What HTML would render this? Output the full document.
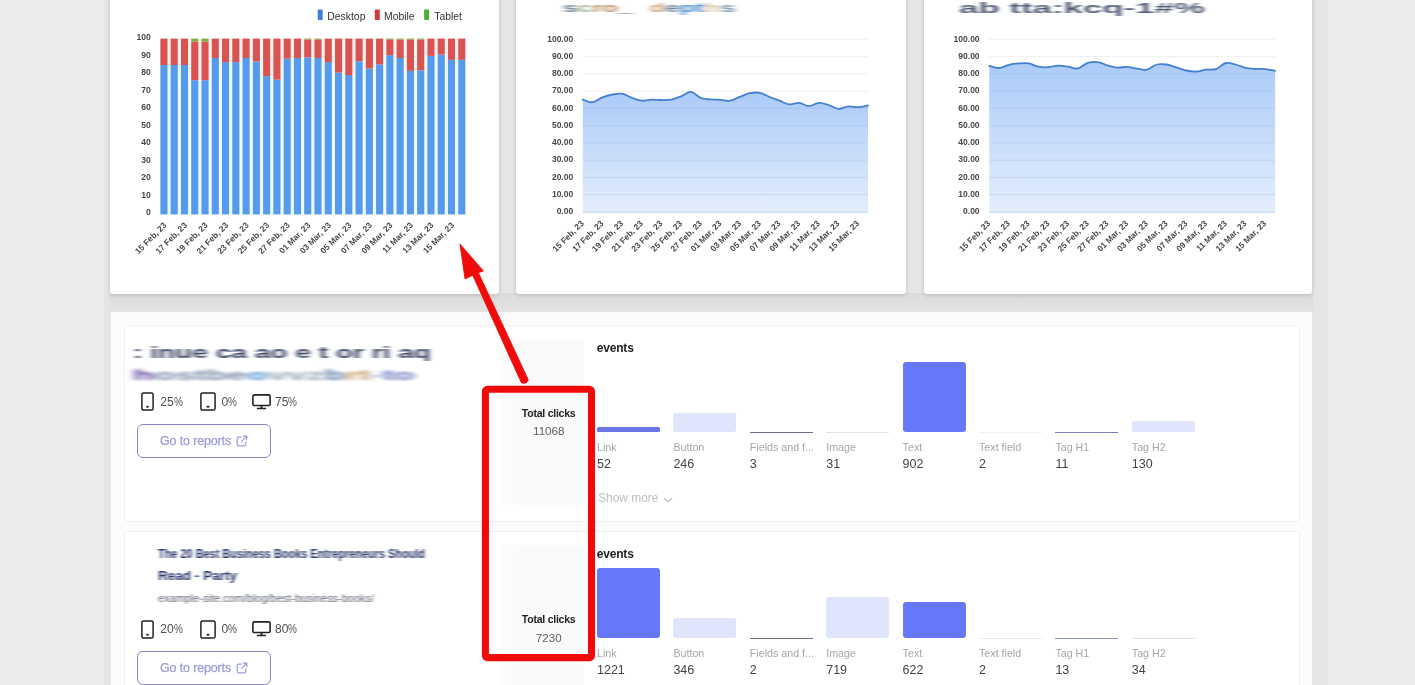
<!DOCTYPE html><html lang="en"><head><meta charset="utf-8"><title>Analytics dashboard</title><style>
*{box-sizing:border-box;margin:0;padding:0}
html,body{width:1415px;height:685px;overflow:hidden}
body{background:#ececec;font-family:"Liberation Sans",sans-serif;position:relative}
.abs{position:absolute}
.card{position:absolute;background:#fff;border-radius:3px;box-shadow:0 0 4px rgba(0,0,0,.10),0 2px 5px rgba(0,0,0,.07)}
.panel{position:absolute;left:110.5px;top:312px;width:1201.5px;height:400px;background:#fcfcfc}
.row{position:absolute;left:123.5px;width:1176px;background:#fff;border:1px solid #f0f0f0;border-radius:4px}
.ov{position:absolute;left:0;top:0;pointer-events:none}
.t{position:absolute;white-space:nowrap;line-height:1}
.tc{background:#f9fafb;position:absolute}
.lbl{font-size:10.7px;color:#a6a6a6}
.val{font-size:12.5px;color:#444}
.ev{font-size:12px;font-weight:bold;color:#222;letter-spacing:-0.2px}
.pct{font-size:12px;color:#505050}
.pct i{font-style:normal;display:inline-block;transform:scaleX(.83);transform-origin:0 50%;margin-right:-1.9px}
.btn{position:absolute;border:1px solid #8686c6;border-radius:6px;background:#fff;width:134px;height:33.5px}
.btn span{-webkit-text-stroke:0.25px #9a9adc;position:absolute;left:22px;top:8.8px;font-size:12.5px;color:#9a9adc;white-space:nowrap;line-height:14px;letter-spacing:-0.15px}
.bar{position:absolute;border-radius:3px}
.sm{border-radius:2.5px}
.b1.sm{border-radius:1.5px;background:#6a76e6}
.b1{background:#6677f8}
.b2{background:#e1e5fb}
.blur{position:absolute;white-space:nowrap;line-height:1}
</style></head><body>
<div class="abs" style="left:104px;top:0;width:1223.5px;height:685px;background:#e5e5e5"></div>
<div class="abs" style="left:109px;top:293px;width:1204px;height:19px;background:linear-gradient(#dbdbdb,#e3e3e3)"></div>
<div class="card" style="left:110px;top:-10px;width:388.5px;height:304px"></div>
<div class="card" style="left:516px;top:-10px;width:390px;height:304px"></div>
<div class="card" style="left:923.5px;top:-10px;width:388.5px;height:304px"></div>
<div class="panel"></div>
<div class="row" style="top:325px;height:196.5px"></div>
<div class="row" style="top:531px;height:200px"></div>
<svg class="ov" width="1415" height="685"><defs><filter id="bl1" x="-5%" y="-50%" width="110%" height="200%"><feGaussianBlur stdDeviation="2.6 0.7"/></filter><filter id="bl2" x="-5%" y="-50%" width="110%" height="200%"><feGaussianBlur stdDeviation="1.8 0.5"/></filter><filter id="bl4" x="-5%" y="-50%" width="110%" height="200%"><feGaussianBlur stdDeviation="3.2 0.5"/></filter><filter id="bl5" x="-5%" y="-50%" width="110%" height="200%"><feGaussianBlur stdDeviation="4 0.8"/></filter><filter id="bl6" x="-5%" y="-50%" width="110%" height="200%"><feGaussianBlur stdDeviation="2.3 0.45"/></filter><filter id="bl7" x="-5%" y="-50%" width="110%" height="200%"><feGaussianBlur stdDeviation="2.4 0.45"/></filter><filter id="bl8" x="-5%" y="-50%" width="110%" height="200%"><feGaussianBlur stdDeviation="3 0.7"/></filter><filter id="bl3" x="-5%" y="-50%" width="110%" height="200%"><feGaussianBlur stdDeviation="1.5 0.55"/></filter></defs><g font-family="Liberation Sans, sans-serif"><text x="563" y="12.3" font-size="12.5" font-weight="bold" filter="url(#bl8)" textLength="172" lengthAdjust="spacingAndGlyphs"><tspan fill="#5f7690">s</tspan><tspan fill="#9fb58f">c</tspan><tspan fill="#b98a55">ro</tspan><tspan fill="#5a6a80">_</tspan><tspan fill="#ffffff">o</tspan><tspan fill="#c9a27a">d</tspan><tspan fill="#6b7f9a">e</tspan><tspan fill="#3f86c8">pt</tspan><tspan fill="#d9c4a0">h</tspan><tspan fill="#6f8fa8">s</tspan></text><text x="959" y="13.2" font-size="14.5" font-weight="bold" fill="#3a4563" filter="url(#bl6)" textLength="246" lengthAdjust="spacingAndGlyphs" opacity=".88">ab tta:kcq-1#%</text><text x="133" y="357.6" font-size="17" font-weight="bold" fill="#262f52" filter="url(#bl7)" textLength="298" lengthAdjust="spacingAndGlyphs" opacity=".92">: inue ca ao e t or ri aq</text><text x="133" y="379.5" font-size="14" font-weight="bold" filter="url(#bl5)" textLength="282" lengthAdjust="spacingAndGlyphs"><tspan fill="#5a3f9a">h</tspan><tspan fill="#7d8aa8">ostbe</tspan><tspan fill="#4b8fd0">o</tspan><tspan fill="#9aa4b8">vvz</tspan><tspan fill="#5f7fa8">b</tspan><tspan fill="#c79a62">rt</tspan><tspan fill="#9aa4c8">-</tspan><tspan fill="#6c78c0">to</tspan></text><text x="158" y="558" font-size="13.5" font-weight="bold" fill="#27346a" filter="url(#bl3)" textLength="267" lengthAdjust="spacingAndGlyphs">The 20 Best Business Books Entrepreneurs Should</text><text x="158" y="580" font-size="13.5" font-weight="bold" fill="#27346a" filter="url(#bl3)" textLength="79" lengthAdjust="spacingAndGlyphs">Read - Party</text><text x="158" y="601.5" font-size="11.5" fill="#5a626e" filter="url(#bl3)" textLength="216" lengthAdjust="spacingAndGlyphs">example-site.com/blog/best-business-books/</text></g></svg>
<svg class="abs" style="left:141px;top:392px" width="13" height="19" viewBox="0 0 13 19"><rect x="0.9" y="0.9" width="11.2" height="17.2" rx="1.7" fill="none" stroke="#222" stroke-width="1.5"/><rect x="5.3" y="13.8" width="2.4" height="1.8" fill="#222"/></svg>
<div class="t pct" style="left:160.3px;top:395.5px">25<i>%</i></div>
<svg class="abs" style="left:200px;top:392px" width="16" height="19" viewBox="0 0 16 19"><rect x="0.9" y="0.9" width="14.2" height="17.2" rx="1.7" fill="none" stroke="#222" stroke-width="1.5"/><rect x="6.6" y="13.8" width="2.8" height="1.8" fill="#222"/></svg>
<div class="t pct" style="left:221.4px;top:395.5px">0<i>%</i></div>
<svg class="abs" style="left:252.3px;top:393.8px" width="19" height="16" viewBox="0 0 19 16"><rect x="0.9" y="0.9" width="17.2" height="10.6" rx="1.3" fill="none" stroke="#222" stroke-width="1.6"/><rect x="8.6" y="11.5" width="1.8" height="2.6" fill="#222"/><rect x="4.8" y="13.7" width="9.4" height="1.5" rx=".6" fill="#222"/></svg>
<div class="t pct" style="left:275.1px;top:395.5px">75<i>%</i></div>
<svg class="abs" style="left:141px;top:619.5px" width="13" height="19" viewBox="0 0 13 19"><rect x="0.9" y="0.9" width="11.2" height="17.2" rx="1.7" fill="none" stroke="#222" stroke-width="1.5"/><rect x="5.3" y="13.8" width="2.4" height="1.8" fill="#222"/></svg>
<div class="t pct" style="left:160.3px;top:623.0px">20<i>%</i></div>
<svg class="abs" style="left:200px;top:619.5px" width="16" height="19" viewBox="0 0 16 19"><rect x="0.9" y="0.9" width="14.2" height="17.2" rx="1.7" fill="none" stroke="#222" stroke-width="1.5"/><rect x="6.6" y="13.8" width="2.8" height="1.8" fill="#222"/></svg>
<div class="t pct" style="left:221.4px;top:623.0px">0<i>%</i></div>
<svg class="abs" style="left:252.3px;top:621.3px" width="19" height="16" viewBox="0 0 19 16"><rect x="0.9" y="0.9" width="17.2" height="10.6" rx="1.3" fill="none" stroke="#222" stroke-width="1.6"/><rect x="8.6" y="11.5" width="1.8" height="2.6" fill="#222"/><rect x="4.8" y="13.7" width="9.4" height="1.5" rx=".6" fill="#222"/></svg>
<div class="t pct" style="left:275.1px;top:623.0px">80<i>%</i></div>
<div class="btn" style="left:137px;top:424px"><span>Go to reports</span></div>
<svg class="abs" style="left:236.2px;top:434.6px" width="12" height="12" viewBox="0 0 12 12" fill="none" stroke="#9a9ade" stroke-width="1.2" stroke-linecap="round" stroke-linejoin="round"><path d="M5 2.2H2.6A1.4 1.4 0 0 0 1.2 3.6v5.8a1.4 1.4 0 0 0 1.4 1.4h5.8a1.4 1.4 0 0 0 1.4-1.4V7"/><path d="M7.2 1.2h3.6v3.6M10.6 1.4 5.6 6.4"/></svg>
<div class="btn" style="left:137px;top:651px"><span>Go to reports</span></div>
<svg class="abs" style="left:236.2px;top:661.6px" width="12" height="12" viewBox="0 0 12 12" fill="none" stroke="#9a9ade" stroke-width="1.2" stroke-linecap="round" stroke-linejoin="round"><path d="M5 2.2H2.6A1.4 1.4 0 0 0 1.2 3.6v5.8a1.4 1.4 0 0 0 1.4 1.4h5.8a1.4 1.4 0 0 0 1.4-1.4V7"/><path d="M7.2 1.2h3.6v3.6M10.6 1.4 5.6 6.4"/></svg>
<div class="tc" style="left:499.5px;top:340px;width:84.5px;height:164.5px;background:#fbfbfc"></div>
<div class="tc" style="left:518px;top:340px;width:66px;height:164.5px"></div>
<div class="t" style="left:521.8px;top:407.7px;font-size:10.6px;font-weight:bold;color:#222;letter-spacing:-0.27px">Total clicks</div>
<div class="t" style="left:500px;width:97.5px;text-align:center;top:425.09999999999997px;font-size:11.6px;color:#5e5e5e">11068</div>
<div class="tc" style="left:499.5px;top:545px;width:84.5px;height:150px;background:#fbfbfc"></div>
<div class="tc" style="left:518px;top:545px;width:66px;height:150px"></div>
<div class="t" style="left:521.8px;top:614.1px;font-size:10.6px;font-weight:bold;color:#222;letter-spacing:-0.27px">Total clicks</div>
<div class="t" style="left:500px;width:97.5px;text-align:center;top:631.5px;font-size:11.6px;color:#5e5e5e">7230</div>
<div class="t ev" style="left:596.8px;top:341.8px">events</div>
<div class="t lbl" style="left:597.0px;top:442.0px">Link</div>
<div class="t val" style="left:597.0px;top:458.40000000000003px">52</div>
<div class="bar b1 sm" style="left:597.0px;top:426.8px;width:63px;height:5px"></div>
<div class="t lbl" style="left:673.4px;top:442.0px">Button</div>
<div class="t val" style="left:673.4px;top:458.40000000000003px">246</div>
<div class="bar b2 sm" style="left:673.4px;top:412.6px;width:63px;height:19.2px"></div>
<div class="t lbl" style="left:749.8px;top:442.0px">Fields and f...</div>
<div class="t val" style="left:749.8px;top:458.40000000000003px">3</div>
<div class="abs" style="left:749.8px;top:432.0px;width:63px;height:1px;background:#6a6f8a"></div>
<div class="t lbl" style="left:826.2px;top:442.0px">Image</div>
<div class="t val" style="left:826.2px;top:458.40000000000003px">31</div>
<div class="abs" style="left:826.2px;top:432.0px;width:63px;height:1px;background:#e4e4e8"></div>
<div class="t lbl" style="left:902.6px;top:442.0px">Text</div>
<div class="t val" style="left:902.6px;top:458.40000000000003px">902</div>
<div class="bar b1" style="left:902.6px;top:361.5px;width:63px;height:70.3px"></div>
<div class="t lbl" style="left:979.0px;top:442.0px">Text field</div>
<div class="t val" style="left:979.0px;top:458.40000000000003px">2</div>
<div class="abs" style="left:979.0px;top:432.0px;width:63px;height:1px;background:#f0f0f2"></div>
<div class="t lbl" style="left:1055.4px;top:442.0px">Tag H1</div>
<div class="t val" style="left:1055.4px;top:458.40000000000003px">11</div>
<div class="abs" style="left:1055.4px;top:432.0px;width:63px;height:1px;background:#7a80b8"></div>
<div class="t lbl" style="left:1131.8px;top:442.0px">Tag H2</div>
<div class="t val" style="left:1131.8px;top:458.40000000000003px">130</div>
<div class="bar b2 sm" style="left:1131.8px;top:421.3px;width:63px;height:10.5px"></div>
<div class="t ev" style="left:596.8px;top:548.2px">events</div>
<div class="t lbl" style="left:597.0px;top:647.8000000000001px">Link</div>
<div class="t val" style="left:597.0px;top:664.2px">1221</div>
<div class="bar b1" style="left:597.0px;top:568.2px;width:63px;height:69.4px"></div>
<div class="t lbl" style="left:673.4px;top:647.8000000000001px">Button</div>
<div class="t val" style="left:673.4px;top:664.2px">346</div>
<div class="bar b2 sm" style="left:673.4px;top:618.3px;width:63px;height:19.3px"></div>
<div class="t lbl" style="left:749.8px;top:647.8000000000001px">Fields and f...</div>
<div class="t val" style="left:749.8px;top:664.2px">2</div>
<div class="abs" style="left:749.8px;top:637.8000000000001px;width:63px;height:1px;background:#6a6f8a"></div>
<div class="t lbl" style="left:826.2px;top:647.8000000000001px">Image</div>
<div class="t val" style="left:826.2px;top:664.2px">719</div>
<div class="bar b2" style="left:826.2px;top:597.4px;width:63px;height:40.2px"></div>
<div class="t lbl" style="left:902.6px;top:647.8000000000001px">Text</div>
<div class="t val" style="left:902.6px;top:664.2px">622</div>
<div class="bar b1" style="left:902.6px;top:602.2px;width:63px;height:35.4px"></div>
<div class="t lbl" style="left:979.0px;top:647.8000000000001px">Text field</div>
<div class="t val" style="left:979.0px;top:664.2px">2</div>
<div class="abs" style="left:979.0px;top:637.8000000000001px;width:63px;height:1px;background:#ececf0"></div>
<div class="t lbl" style="left:1055.4px;top:647.8000000000001px">Tag H1</div>
<div class="t val" style="left:1055.4px;top:664.2px">13</div>
<div class="abs" style="left:1055.4px;top:637.8000000000001px;width:63px;height:1px;background:#8a90c8"></div>
<div class="t lbl" style="left:1131.8px;top:647.8000000000001px">Tag H2</div>
<div class="t val" style="left:1131.8px;top:664.2px">34</div>
<div class="abs" style="left:1131.8px;top:637.8000000000001px;width:63px;height:1px;background:#e0e2ee"></div>
<div class="t" style="left:598.2px;top:493.2px;font-size:11.9px;color:#c0c0c0">Show more</div>
<svg class="abs" style="left:662.8px;top:495.5px" width="10" height="8" viewBox="0 0 10 8" fill="none" stroke="#c2c2c2" stroke-width="1.2" stroke-linecap="round" stroke-linejoin="round"><path d="M1.5 2.5 5 5.8 8.5 2.5"/></svg>
<svg class="ov" width="1415" height="685" viewBox="0 0 1415 685">
<defs>
<linearGradient id="ag" x1="0" y1="0" x2="0" y2="1"><stop offset="0" stop-color="#a9c9f8"/><stop offset="1" stop-color="#e3eefc"/></linearGradient>
<linearGradient id="ag3" x1="0" y1="0" x2="0" y2="1"><stop offset="0" stop-color="#a9c9f8"/><stop offset="1" stop-color="#e3eefc"/></linearGradient>
</defs>
<g shape-rendering="auto">
<rect x="160.01" y="65.00" width="9.07" height="149.40" fill="#ecfaff"/>
<rect x="160.01" y="38.60" width="9.07" height="26.40" fill="#fff1f1"/>
<rect x="169.09" y="65.00" width="10.27" height="149.40" fill="#ecfaff"/>
<rect x="169.09" y="38.60" width="10.27" height="26.40" fill="#fff1f1"/>
<rect x="179.35" y="65.00" width="10.27" height="149.40" fill="#ecfaff"/>
<rect x="179.35" y="38.60" width="10.27" height="26.40" fill="#fff1f1"/>
<rect x="189.62" y="80.20" width="10.27" height="134.20" fill="#ecfaff"/>
<rect x="189.62" y="38.60" width="10.27" height="41.60" fill="#fff1f1"/>
<rect x="199.90" y="80.20" width="10.27" height="134.20" fill="#ecfaff"/>
<rect x="199.90" y="38.60" width="10.27" height="41.60" fill="#fff1f1"/>
<rect x="210.16" y="58.00" width="10.27" height="156.40" fill="#ecfaff"/>
<rect x="210.16" y="38.60" width="10.27" height="19.40" fill="#fff1f1"/>
<rect x="220.44" y="62.10" width="10.27" height="152.30" fill="#ecfaff"/>
<rect x="220.44" y="38.60" width="10.27" height="23.50" fill="#fff1f1"/>
<rect x="230.71" y="62.10" width="10.27" height="152.30" fill="#ecfaff"/>
<rect x="230.71" y="38.60" width="10.27" height="23.50" fill="#fff1f1"/>
<rect x="240.97" y="58.00" width="10.27" height="156.40" fill="#ecfaff"/>
<rect x="240.97" y="38.60" width="10.27" height="19.40" fill="#fff1f1"/>
<rect x="251.24" y="61.50" width="10.27" height="152.90" fill="#ecfaff"/>
<rect x="251.24" y="38.60" width="10.27" height="22.90" fill="#fff1f1"/>
<rect x="261.52" y="76.10" width="10.27" height="138.30" fill="#ecfaff"/>
<rect x="261.52" y="38.60" width="10.27" height="37.50" fill="#fff1f1"/>
<rect x="271.79" y="79.60" width="10.27" height="134.80" fill="#ecfaff"/>
<rect x="271.79" y="38.60" width="10.27" height="41.00" fill="#fff1f1"/>
<rect x="282.06" y="58.60" width="10.27" height="155.80" fill="#ecfaff"/>
<rect x="282.06" y="38.60" width="10.27" height="20.00" fill="#fff1f1"/>
<rect x="292.32" y="58.00" width="10.27" height="156.40" fill="#ecfaff"/>
<rect x="292.32" y="38.60" width="10.27" height="19.40" fill="#fff1f1"/>
<rect x="302.60" y="57.40" width="10.27" height="157.00" fill="#ecfaff"/>
<rect x="302.60" y="38.60" width="10.27" height="18.80" fill="#fff1f1"/>
<rect x="312.87" y="58.00" width="10.27" height="156.40" fill="#ecfaff"/>
<rect x="312.87" y="38.60" width="10.27" height="19.40" fill="#fff1f1"/>
<rect x="323.14" y="62.10" width="10.27" height="152.30" fill="#ecfaff"/>
<rect x="323.14" y="38.60" width="10.27" height="23.50" fill="#fff1f1"/>
<rect x="333.41" y="72.60" width="10.27" height="141.80" fill="#ecfaff"/>
<rect x="333.41" y="38.60" width="10.27" height="34.00" fill="#fff1f1"/>
<rect x="343.68" y="75.00" width="10.27" height="139.40" fill="#ecfaff"/>
<rect x="343.68" y="38.60" width="10.27" height="36.40" fill="#fff1f1"/>
<rect x="353.94" y="61.30" width="10.27" height="153.10" fill="#ecfaff"/>
<rect x="353.94" y="38.60" width="10.27" height="22.70" fill="#fff1f1"/>
<rect x="364.21" y="68.50" width="10.27" height="145.90" fill="#ecfaff"/>
<rect x="364.21" y="38.60" width="10.27" height="29.90" fill="#fff1f1"/>
<rect x="374.49" y="64.50" width="10.27" height="149.90" fill="#ecfaff"/>
<rect x="374.49" y="38.60" width="10.27" height="25.90" fill="#fff1f1"/>
<rect x="384.76" y="55.10" width="10.27" height="159.30" fill="#ecfaff"/>
<rect x="384.76" y="38.60" width="10.27" height="16.50" fill="#fff1f1"/>
<rect x="395.03" y="58.00" width="10.27" height="156.40" fill="#ecfaff"/>
<rect x="395.03" y="38.60" width="10.27" height="19.40" fill="#fff1f1"/>
<rect x="405.30" y="70.90" width="10.27" height="143.50" fill="#ecfaff"/>
<rect x="405.30" y="38.60" width="10.27" height="32.30" fill="#fff1f1"/>
<rect x="415.56" y="70.30" width="10.27" height="144.10" fill="#ecfaff"/>
<rect x="415.56" y="38.60" width="10.27" height="31.70" fill="#fff1f1"/>
<rect x="425.83" y="55.90" width="10.27" height="158.50" fill="#ecfaff"/>
<rect x="425.83" y="38.60" width="10.27" height="17.30" fill="#fff1f1"/>
<rect x="436.10" y="54.50" width="10.27" height="159.90" fill="#ecfaff"/>
<rect x="436.10" y="38.60" width="10.27" height="15.90" fill="#fff1f1"/>
<rect x="446.38" y="59.80" width="10.27" height="154.60" fill="#ecfaff"/>
<rect x="446.38" y="38.60" width="10.27" height="21.20" fill="#fff1f1"/>
<rect x="456.65" y="59.80" width="9.07" height="154.60" fill="#ecfaff"/>
<rect x="456.65" y="38.60" width="9.07" height="21.20" fill="#fff1f1"/>
<rect x="160.40" y="65.00" width="7.1" height="149.40" fill="#569aec"/>
<rect x="160.40" y="38.60" width="7.1" height="26.40" fill="#d85451"/>
<rect x="170.67" y="65.00" width="7.1" height="149.40" fill="#569aec"/>
<rect x="170.67" y="38.60" width="7.1" height="26.40" fill="#d85451"/>
<rect x="180.94" y="65.00" width="7.1" height="149.40" fill="#569aec"/>
<rect x="180.94" y="38.60" width="7.1" height="26.40" fill="#d85451"/>
<rect x="191.21" y="80.20" width="7.1" height="134.20" fill="#569aec"/>
<rect x="191.21" y="41.60" width="7.1" height="38.60" fill="#d85451"/>
<rect x="191.21" y="38.60" width="7.1" height="3.00" fill="#7cb342"/>
<rect x="201.48" y="80.20" width="7.1" height="134.20" fill="#569aec"/>
<rect x="201.48" y="41.60" width="7.1" height="38.60" fill="#d85451"/>
<rect x="201.48" y="38.60" width="7.1" height="3.00" fill="#7cb342"/>
<rect x="211.75" y="58.00" width="7.1" height="156.40" fill="#569aec"/>
<rect x="211.75" y="38.60" width="7.1" height="19.40" fill="#d85451"/>
<rect x="222.02" y="62.10" width="7.1" height="152.30" fill="#569aec"/>
<rect x="222.02" y="38.60" width="7.1" height="23.50" fill="#d85451"/>
<rect x="232.29" y="62.10" width="7.1" height="152.30" fill="#569aec"/>
<rect x="232.29" y="38.60" width="7.1" height="23.50" fill="#d85451"/>
<rect x="242.56" y="58.00" width="7.1" height="156.40" fill="#569aec"/>
<rect x="242.56" y="38.60" width="7.1" height="19.40" fill="#d85451"/>
<rect x="252.83" y="61.50" width="7.1" height="152.90" fill="#569aec"/>
<rect x="252.83" y="38.60" width="7.1" height="22.90" fill="#d85451"/>
<rect x="263.10" y="76.10" width="7.1" height="138.30" fill="#569aec"/>
<rect x="263.10" y="38.60" width="7.1" height="37.50" fill="#d85451"/>
<rect x="273.37" y="79.60" width="7.1" height="134.80" fill="#569aec"/>
<rect x="273.37" y="38.60" width="7.1" height="41.00" fill="#d85451"/>
<rect x="283.64" y="58.60" width="7.1" height="155.80" fill="#569aec"/>
<rect x="283.64" y="38.60" width="7.1" height="20.00" fill="#d85451"/>
<rect x="293.91" y="58.00" width="7.1" height="156.40" fill="#569aec"/>
<rect x="293.91" y="38.60" width="7.1" height="19.40" fill="#d85451"/>
<rect x="304.18" y="57.40" width="7.1" height="157.00" fill="#569aec"/>
<rect x="304.18" y="39.40" width="7.1" height="18.00" fill="#d85451"/>
<rect x="304.18" y="38.60" width="7.1" height="0.80" fill="#7cb342"/>
<rect x="314.45" y="58.00" width="7.1" height="156.40" fill="#569aec"/>
<rect x="314.45" y="39.40" width="7.1" height="18.60" fill="#d85451"/>
<rect x="314.45" y="38.60" width="7.1" height="0.80" fill="#7cb342"/>
<rect x="324.72" y="62.10" width="7.1" height="152.30" fill="#569aec"/>
<rect x="324.72" y="38.60" width="7.1" height="23.50" fill="#d85451"/>
<rect x="334.99" y="72.60" width="7.1" height="141.80" fill="#569aec"/>
<rect x="334.99" y="38.60" width="7.1" height="34.00" fill="#d85451"/>
<rect x="345.26" y="75.00" width="7.1" height="139.40" fill="#569aec"/>
<rect x="345.26" y="38.60" width="7.1" height="36.40" fill="#d85451"/>
<rect x="355.53" y="61.30" width="7.1" height="153.10" fill="#569aec"/>
<rect x="355.53" y="38.60" width="7.1" height="22.70" fill="#d85451"/>
<rect x="365.80" y="68.50" width="7.1" height="145.90" fill="#569aec"/>
<rect x="365.80" y="38.60" width="7.1" height="29.90" fill="#d85451"/>
<rect x="376.07" y="64.50" width="7.1" height="149.90" fill="#569aec"/>
<rect x="376.07" y="38.60" width="7.1" height="25.90" fill="#d85451"/>
<rect x="386.34" y="55.10" width="7.1" height="159.30" fill="#569aec"/>
<rect x="386.34" y="39.40" width="7.1" height="15.70" fill="#d85451"/>
<rect x="386.34" y="38.60" width="7.1" height="0.80" fill="#7cb342"/>
<rect x="396.61" y="58.00" width="7.1" height="156.40" fill="#569aec"/>
<rect x="396.61" y="39.60" width="7.1" height="18.40" fill="#d85451"/>
<rect x="396.61" y="38.60" width="7.1" height="1.00" fill="#7cb342"/>
<rect x="406.88" y="70.90" width="7.1" height="143.50" fill="#569aec"/>
<rect x="406.88" y="39.40" width="7.1" height="31.50" fill="#d85451"/>
<rect x="406.88" y="38.60" width="7.1" height="0.80" fill="#7cb342"/>
<rect x="417.15" y="70.30" width="7.1" height="144.10" fill="#569aec"/>
<rect x="417.15" y="39.40" width="7.1" height="30.90" fill="#d85451"/>
<rect x="417.15" y="38.60" width="7.1" height="0.80" fill="#7cb342"/>
<rect x="427.42" y="55.90" width="7.1" height="158.50" fill="#569aec"/>
<rect x="427.42" y="38.60" width="7.1" height="17.30" fill="#d85451"/>
<rect x="437.69" y="54.50" width="7.1" height="159.90" fill="#569aec"/>
<rect x="437.69" y="38.60" width="7.1" height="15.90" fill="#d85451"/>
<rect x="447.96" y="59.80" width="7.1" height="154.60" fill="#569aec"/>
<rect x="447.96" y="38.60" width="7.1" height="21.20" fill="#d85451"/>
<rect x="458.23" y="59.80" width="7.1" height="154.60" fill="#569aec"/>
<rect x="458.23" y="38.60" width="7.1" height="21.20" fill="#d85451"/>
</g>
<g font-family="Liberation Sans, sans-serif" font-size="8.6" fill="#484848" text-anchor="end" font-weight="bold">
<text x="150.8" y="215.30">0</text>
<text x="150.8" y="197.77">10</text>
<text x="150.8" y="180.24">20</text>
<text x="150.8" y="162.71">30</text>
<text x="150.8" y="145.18">40</text>
<text x="150.8" y="127.65">50</text>
<text x="150.8" y="110.12">60</text>
<text x="150.8" y="92.59">70</text>
<text x="150.8" y="75.06">80</text>
<text x="150.8" y="57.53">90</text>
<text x="150.8" y="40.00">100</text>
</g>
<g font-family="Liberation Sans, sans-serif" font-size="8.4" fill="#484848" text-anchor="end" font-weight="bold">
<text transform="translate(167.15,225.8) rotate(-45)" x="0" y="0">15 Feb, 23</text>
<text transform="translate(187.69,225.8) rotate(-45)" x="0" y="0">17 Feb, 23</text>
<text transform="translate(208.23,225.8) rotate(-45)" x="0" y="0">19 Feb, 23</text>
<text transform="translate(228.77,225.8) rotate(-45)" x="0" y="0">21 Feb, 23</text>
<text transform="translate(249.31,225.8) rotate(-45)" x="0" y="0">23 Feb, 23</text>
<text transform="translate(269.85,225.8) rotate(-45)" x="0" y="0">25 Feb, 23</text>
<text transform="translate(290.39,225.8) rotate(-45)" x="0" y="0">27 Feb, 23</text>
<text transform="translate(310.93,225.8) rotate(-45)" x="0" y="0">01 Mar, 23</text>
<text transform="translate(331.47,225.8) rotate(-45)" x="0" y="0">03 Mar, 23</text>
<text transform="translate(352.01,225.8) rotate(-45)" x="0" y="0">05 Mar, 23</text>
<text transform="translate(372.55,225.8) rotate(-45)" x="0" y="0">07 Mar, 23</text>
<text transform="translate(393.09,225.8) rotate(-45)" x="0" y="0">09 Mar, 23</text>
<text transform="translate(413.63,225.8) rotate(-45)" x="0" y="0">11 Mar, 23</text>
<text transform="translate(434.17,225.8) rotate(-45)" x="0" y="0">13 Mar, 23</text>
<text transform="translate(454.71,225.8) rotate(-45)" x="0" y="0">15 Mar, 23</text>
</g>
<g font-family="Liberation Sans, sans-serif" font-size="10.4" fill="#333">
<rect x="317.7" y="9.6" width="5" height="10.5" rx="1" fill="#3f7fdc"/><text x="327.3" y="19.6">Desktop</text>
<rect x="374.8" y="9.6" width="5" height="10.5" rx="1" fill="#d43a3a"/><text x="384" y="19.6">Mobile</text>
<rect x="424.1" y="9.6" width="5" height="10.5" rx="1" fill="#4caf32"/><text x="434.2" y="19.6">Tablet</text>
</g>
<line x1="582.8" y1="211.90" x2="868.0" y2="211.90" stroke="#f0f0f0" stroke-width="1"/>
<line x1="582.8" y1="194.64" x2="868.0" y2="194.64" stroke="#f0f0f0" stroke-width="1"/>
<line x1="582.8" y1="177.38" x2="868.0" y2="177.38" stroke="#f0f0f0" stroke-width="1"/>
<line x1="582.8" y1="160.12" x2="868.0" y2="160.12" stroke="#f0f0f0" stroke-width="1"/>
<line x1="582.8" y1="142.86" x2="868.0" y2="142.86" stroke="#f0f0f0" stroke-width="1"/>
<line x1="582.8" y1="125.60" x2="868.0" y2="125.60" stroke="#f0f0f0" stroke-width="1"/>
<line x1="582.8" y1="108.34" x2="868.0" y2="108.34" stroke="#f0f0f0" stroke-width="1"/>
<line x1="582.8" y1="91.08" x2="868.0" y2="91.08" stroke="#f0f0f0" stroke-width="1"/>
<line x1="582.8" y1="73.82" x2="868.0" y2="73.82" stroke="#f0f0f0" stroke-width="1"/>
<line x1="582.8" y1="56.56" x2="868.0" y2="56.56" stroke="#f0f0f0" stroke-width="1"/>
<line x1="582.8" y1="39.30" x2="868.0" y2="39.30" stroke="#f0f0f0" stroke-width="1"/>
<path d="M582.80,99.60 C584.57,100.07 589.09,102.60 592.63,102.20 C596.17,101.80 598.93,98.79 602.47,97.40 C606.01,96.01 608.76,95.17 612.30,94.50 C615.84,93.83 618.60,93.11 622.14,93.70 C625.68,94.29 628.43,96.54 631.97,97.80 C635.51,99.06 638.27,100.38 641.81,100.70 C645.35,101.02 648.10,99.73 651.64,99.60 C655.18,99.47 657.94,100.00 661.48,100.00 C665.02,100.00 667.77,100.27 671.31,99.60 C674.85,98.93 677.60,97.69 681.14,96.30 C684.69,94.91 687.44,91.59 690.98,91.90 C694.52,92.21 697.27,96.65 700.81,98.00 C704.35,99.35 707.11,99.08 710.65,99.40 C714.19,99.72 716.94,99.57 720.48,99.80 C724.02,100.03 726.78,101.26 730.32,100.70 C733.86,100.14 736.61,98.05 740.15,96.70 C743.69,95.35 746.45,93.90 749.99,93.20 C753.53,92.50 756.28,92.12 759.82,92.80 C763.36,93.48 766.11,95.58 769.66,97.00 C773.20,98.42 775.95,99.37 779.49,100.70 C783.03,102.03 785.78,104.00 789.32,104.40 C792.86,104.80 795.62,102.59 799.16,102.90 C802.70,103.21 805.45,106.10 808.99,106.10 C812.53,106.10 815.29,103.10 818.83,102.90 C822.37,102.70 825.12,103.94 828.66,105.00 C832.20,106.06 834.96,108.55 838.50,108.80 C842.04,109.05 844.79,106.69 848.33,106.40 C851.87,106.11 854.63,107.36 858.17,107.20 C861.71,107.04 866.23,105.81 868.00,105.50 L868.0,213.4 L582.8,213.4 Z" fill="url(#ag)" opacity="0.97"/>
<clipPath id="cpag"><path d="M582.80,99.60 C584.57,100.07 589.09,102.60 592.63,102.20 C596.17,101.80 598.93,98.79 602.47,97.40 C606.01,96.01 608.76,95.17 612.30,94.50 C615.84,93.83 618.60,93.11 622.14,93.70 C625.68,94.29 628.43,96.54 631.97,97.80 C635.51,99.06 638.27,100.38 641.81,100.70 C645.35,101.02 648.10,99.73 651.64,99.60 C655.18,99.47 657.94,100.00 661.48,100.00 C665.02,100.00 667.77,100.27 671.31,99.60 C674.85,98.93 677.60,97.69 681.14,96.30 C684.69,94.91 687.44,91.59 690.98,91.90 C694.52,92.21 697.27,96.65 700.81,98.00 C704.35,99.35 707.11,99.08 710.65,99.40 C714.19,99.72 716.94,99.57 720.48,99.80 C724.02,100.03 726.78,101.26 730.32,100.70 C733.86,100.14 736.61,98.05 740.15,96.70 C743.69,95.35 746.45,93.90 749.99,93.20 C753.53,92.50 756.28,92.12 759.82,92.80 C763.36,93.48 766.11,95.58 769.66,97.00 C773.20,98.42 775.95,99.37 779.49,100.70 C783.03,102.03 785.78,104.00 789.32,104.40 C792.86,104.80 795.62,102.59 799.16,102.90 C802.70,103.21 805.45,106.10 808.99,106.10 C812.53,106.10 815.29,103.10 818.83,102.90 C822.37,102.70 825.12,103.94 828.66,105.00 C832.20,106.06 834.96,108.55 838.50,108.80 C842.04,109.05 844.79,106.69 848.33,106.40 C851.87,106.11 854.63,107.36 858.17,107.20 C861.71,107.04 866.23,105.81 868.00,105.50 L868.0,213.4 L582.8,213.4 Z"/></clipPath>
<g clip-path="url(#cpag)">
<line x1="582.8" y1="211.90" x2="868.0" y2="211.90" stroke="#7fa4dc" stroke-opacity="0.22" stroke-width="1"/>
<line x1="582.8" y1="194.64" x2="868.0" y2="194.64" stroke="#7fa4dc" stroke-opacity="0.22" stroke-width="1"/>
<line x1="582.8" y1="177.38" x2="868.0" y2="177.38" stroke="#7fa4dc" stroke-opacity="0.22" stroke-width="1"/>
<line x1="582.8" y1="160.12" x2="868.0" y2="160.12" stroke="#7fa4dc" stroke-opacity="0.22" stroke-width="1"/>
<line x1="582.8" y1="142.86" x2="868.0" y2="142.86" stroke="#7fa4dc" stroke-opacity="0.22" stroke-width="1"/>
<line x1="582.8" y1="125.60" x2="868.0" y2="125.60" stroke="#7fa4dc" stroke-opacity="0.22" stroke-width="1"/>
<line x1="582.8" y1="108.34" x2="868.0" y2="108.34" stroke="#7fa4dc" stroke-opacity="0.22" stroke-width="1"/>
<line x1="582.8" y1="91.08" x2="868.0" y2="91.08" stroke="#7fa4dc" stroke-opacity="0.22" stroke-width="1"/>
<line x1="582.8" y1="73.82" x2="868.0" y2="73.82" stroke="#7fa4dc" stroke-opacity="0.22" stroke-width="1"/>
<line x1="582.8" y1="56.56" x2="868.0" y2="56.56" stroke="#7fa4dc" stroke-opacity="0.22" stroke-width="1"/>
</g>
<path d="M582.80,99.60 C584.57,100.07 589.09,102.60 592.63,102.20 C596.17,101.80 598.93,98.79 602.47,97.40 C606.01,96.01 608.76,95.17 612.30,94.50 C615.84,93.83 618.60,93.11 622.14,93.70 C625.68,94.29 628.43,96.54 631.97,97.80 C635.51,99.06 638.27,100.38 641.81,100.70 C645.35,101.02 648.10,99.73 651.64,99.60 C655.18,99.47 657.94,100.00 661.48,100.00 C665.02,100.00 667.77,100.27 671.31,99.60 C674.85,98.93 677.60,97.69 681.14,96.30 C684.69,94.91 687.44,91.59 690.98,91.90 C694.52,92.21 697.27,96.65 700.81,98.00 C704.35,99.35 707.11,99.08 710.65,99.40 C714.19,99.72 716.94,99.57 720.48,99.80 C724.02,100.03 726.78,101.26 730.32,100.70 C733.86,100.14 736.61,98.05 740.15,96.70 C743.69,95.35 746.45,93.90 749.99,93.20 C753.53,92.50 756.28,92.12 759.82,92.80 C763.36,93.48 766.11,95.58 769.66,97.00 C773.20,98.42 775.95,99.37 779.49,100.70 C783.03,102.03 785.78,104.00 789.32,104.40 C792.86,104.80 795.62,102.59 799.16,102.90 C802.70,103.21 805.45,106.10 808.99,106.10 C812.53,106.10 815.29,103.10 818.83,102.90 C822.37,102.70 825.12,103.94 828.66,105.00 C832.20,106.06 834.96,108.55 838.50,108.80 C842.04,109.05 844.79,106.69 848.33,106.40 C851.87,106.11 854.63,107.36 858.17,107.20 C861.71,107.04 866.23,105.81 868.00,105.50" fill="none" stroke="#4380d4" stroke-width="1.8" stroke-linejoin="round" stroke-linecap="round"/>
<g font-family="Liberation Sans, sans-serif" font-size="8.5" fill="#484848" text-anchor="end" font-weight="bold">
<text x="573.2" y="214.10">0.00</text>
<text x="573.2" y="196.84">10.00</text>
<text x="573.2" y="179.58">20.00</text>
<text x="573.2" y="162.32">30.00</text>
<text x="573.2" y="145.06">40.00</text>
<text x="573.2" y="127.80">50.00</text>
<text x="573.2" y="110.54">60.00</text>
<text x="573.2" y="93.28">70.00</text>
<text x="573.2" y="76.02">80.00</text>
<text x="573.2" y="58.76">90.00</text>
<text x="573.2" y="41.50">100.00</text>
</g>
<g font-family="Liberation Sans, sans-serif" font-size="8.3" fill="#484848" text-anchor="end" font-weight="bold">
<text transform="translate(584.40,224.0) rotate(-45)" x="0" y="0">15 Feb, 23</text>
<text transform="translate(604.07,224.0) rotate(-45)" x="0" y="0">17 Feb, 23</text>
<text transform="translate(623.74,224.0) rotate(-45)" x="0" y="0">19 Feb, 23</text>
<text transform="translate(643.41,224.0) rotate(-45)" x="0" y="0">21 Feb, 23</text>
<text transform="translate(663.08,224.0) rotate(-45)" x="0" y="0">23 Feb, 23</text>
<text transform="translate(682.74,224.0) rotate(-45)" x="0" y="0">25 Feb, 23</text>
<text transform="translate(702.41,224.0) rotate(-45)" x="0" y="0">27 Feb, 23</text>
<text transform="translate(722.08,224.0) rotate(-45)" x="0" y="0">01 Mar, 23</text>
<text transform="translate(741.75,224.0) rotate(-45)" x="0" y="0">03 Mar, 23</text>
<text transform="translate(761.42,224.0) rotate(-45)" x="0" y="0">05 Mar, 23</text>
<text transform="translate(781.09,224.0) rotate(-45)" x="0" y="0">07 Mar, 23</text>
<text transform="translate(800.76,224.0) rotate(-45)" x="0" y="0">09 Mar, 23</text>
<text transform="translate(820.43,224.0) rotate(-45)" x="0" y="0">11 Mar, 23</text>
<text transform="translate(840.10,224.0) rotate(-45)" x="0" y="0">13 Mar, 23</text>
<text transform="translate(859.77,224.0) rotate(-45)" x="0" y="0">15 Mar, 23</text>
</g>
<line x1="989.2" y1="211.90" x2="1275.1" y2="211.90" stroke="#f0f0f0" stroke-width="1"/>
<line x1="989.2" y1="194.64" x2="1275.1" y2="194.64" stroke="#f0f0f0" stroke-width="1"/>
<line x1="989.2" y1="177.38" x2="1275.1" y2="177.38" stroke="#f0f0f0" stroke-width="1"/>
<line x1="989.2" y1="160.12" x2="1275.1" y2="160.12" stroke="#f0f0f0" stroke-width="1"/>
<line x1="989.2" y1="142.86" x2="1275.1" y2="142.86" stroke="#f0f0f0" stroke-width="1"/>
<line x1="989.2" y1="125.60" x2="1275.1" y2="125.60" stroke="#f0f0f0" stroke-width="1"/>
<line x1="989.2" y1="108.34" x2="1275.1" y2="108.34" stroke="#f0f0f0" stroke-width="1"/>
<line x1="989.2" y1="91.08" x2="1275.1" y2="91.08" stroke="#f0f0f0" stroke-width="1"/>
<line x1="989.2" y1="73.82" x2="1275.1" y2="73.82" stroke="#f0f0f0" stroke-width="1"/>
<line x1="989.2" y1="56.56" x2="1275.1" y2="56.56" stroke="#f0f0f0" stroke-width="1"/>
<line x1="989.2" y1="39.30" x2="1275.1" y2="39.30" stroke="#f0f0f0" stroke-width="1"/>
<path d="M989.20,65.90 C990.97,66.28 995.51,68.20 999.06,68.00 C1002.61,67.80 1005.37,65.63 1008.92,64.80 C1012.47,63.97 1015.23,63.65 1018.78,63.40 C1022.32,63.15 1025.09,62.81 1028.63,63.40 C1032.18,63.99 1034.94,66.02 1038.49,66.70 C1042.04,67.38 1044.80,67.40 1048.35,67.20 C1051.90,67.00 1054.66,65.69 1058.21,65.60 C1061.76,65.51 1064.52,66.18 1068.07,66.70 C1071.62,67.22 1074.38,69.20 1077.93,68.50 C1081.48,67.80 1084.24,63.95 1087.79,62.80 C1091.34,61.65 1094.10,61.63 1097.64,62.10 C1101.19,62.57 1103.95,64.41 1107.50,65.40 C1111.05,66.39 1113.81,67.33 1117.36,67.60 C1120.91,67.87 1123.67,66.70 1127.22,66.90 C1130.77,67.10 1133.53,68.21 1137.08,68.70 C1140.63,69.19 1143.39,70.36 1146.94,69.60 C1150.49,68.84 1153.25,65.42 1156.80,64.50 C1160.35,63.58 1163.11,63.98 1166.66,64.50 C1170.20,65.02 1172.96,66.32 1176.51,67.40 C1180.06,68.48 1182.82,69.76 1186.37,70.50 C1189.92,71.24 1192.68,71.66 1196.23,71.50 C1199.78,71.34 1202.54,70.03 1206.09,69.60 C1209.64,69.17 1212.40,70.29 1215.95,69.10 C1219.50,67.91 1222.26,63.83 1225.81,63.00 C1229.36,62.17 1232.12,63.64 1235.67,64.50 C1239.21,65.36 1241.98,67.01 1245.52,67.80 C1249.07,68.59 1251.83,68.67 1255.38,68.90 C1258.93,69.13 1261.69,68.74 1265.24,69.10 C1268.79,69.46 1273.33,70.58 1275.10,70.90 L1275.1,213.4 L989.2,213.4 Z" fill="url(#ag3)" opacity="0.97"/>
<clipPath id="cpag3"><path d="M989.20,65.90 C990.97,66.28 995.51,68.20 999.06,68.00 C1002.61,67.80 1005.37,65.63 1008.92,64.80 C1012.47,63.97 1015.23,63.65 1018.78,63.40 C1022.32,63.15 1025.09,62.81 1028.63,63.40 C1032.18,63.99 1034.94,66.02 1038.49,66.70 C1042.04,67.38 1044.80,67.40 1048.35,67.20 C1051.90,67.00 1054.66,65.69 1058.21,65.60 C1061.76,65.51 1064.52,66.18 1068.07,66.70 C1071.62,67.22 1074.38,69.20 1077.93,68.50 C1081.48,67.80 1084.24,63.95 1087.79,62.80 C1091.34,61.65 1094.10,61.63 1097.64,62.10 C1101.19,62.57 1103.95,64.41 1107.50,65.40 C1111.05,66.39 1113.81,67.33 1117.36,67.60 C1120.91,67.87 1123.67,66.70 1127.22,66.90 C1130.77,67.10 1133.53,68.21 1137.08,68.70 C1140.63,69.19 1143.39,70.36 1146.94,69.60 C1150.49,68.84 1153.25,65.42 1156.80,64.50 C1160.35,63.58 1163.11,63.98 1166.66,64.50 C1170.20,65.02 1172.96,66.32 1176.51,67.40 C1180.06,68.48 1182.82,69.76 1186.37,70.50 C1189.92,71.24 1192.68,71.66 1196.23,71.50 C1199.78,71.34 1202.54,70.03 1206.09,69.60 C1209.64,69.17 1212.40,70.29 1215.95,69.10 C1219.50,67.91 1222.26,63.83 1225.81,63.00 C1229.36,62.17 1232.12,63.64 1235.67,64.50 C1239.21,65.36 1241.98,67.01 1245.52,67.80 C1249.07,68.59 1251.83,68.67 1255.38,68.90 C1258.93,69.13 1261.69,68.74 1265.24,69.10 C1268.79,69.46 1273.33,70.58 1275.10,70.90 L1275.1,213.4 L989.2,213.4 Z"/></clipPath>
<g clip-path="url(#cpag3)">
<line x1="989.2" y1="211.90" x2="1275.1" y2="211.90" stroke="#7fa4dc" stroke-opacity="0.22" stroke-width="1"/>
<line x1="989.2" y1="194.64" x2="1275.1" y2="194.64" stroke="#7fa4dc" stroke-opacity="0.22" stroke-width="1"/>
<line x1="989.2" y1="177.38" x2="1275.1" y2="177.38" stroke="#7fa4dc" stroke-opacity="0.22" stroke-width="1"/>
<line x1="989.2" y1="160.12" x2="1275.1" y2="160.12" stroke="#7fa4dc" stroke-opacity="0.22" stroke-width="1"/>
<line x1="989.2" y1="142.86" x2="1275.1" y2="142.86" stroke="#7fa4dc" stroke-opacity="0.22" stroke-width="1"/>
<line x1="989.2" y1="125.60" x2="1275.1" y2="125.60" stroke="#7fa4dc" stroke-opacity="0.22" stroke-width="1"/>
<line x1="989.2" y1="108.34" x2="1275.1" y2="108.34" stroke="#7fa4dc" stroke-opacity="0.22" stroke-width="1"/>
<line x1="989.2" y1="91.08" x2="1275.1" y2="91.08" stroke="#7fa4dc" stroke-opacity="0.22" stroke-width="1"/>
<line x1="989.2" y1="73.82" x2="1275.1" y2="73.82" stroke="#7fa4dc" stroke-opacity="0.22" stroke-width="1"/>
<line x1="989.2" y1="56.56" x2="1275.1" y2="56.56" stroke="#7fa4dc" stroke-opacity="0.22" stroke-width="1"/>
</g>
<path d="M989.20,65.90 C990.97,66.28 995.51,68.20 999.06,68.00 C1002.61,67.80 1005.37,65.63 1008.92,64.80 C1012.47,63.97 1015.23,63.65 1018.78,63.40 C1022.32,63.15 1025.09,62.81 1028.63,63.40 C1032.18,63.99 1034.94,66.02 1038.49,66.70 C1042.04,67.38 1044.80,67.40 1048.35,67.20 C1051.90,67.00 1054.66,65.69 1058.21,65.60 C1061.76,65.51 1064.52,66.18 1068.07,66.70 C1071.62,67.22 1074.38,69.20 1077.93,68.50 C1081.48,67.80 1084.24,63.95 1087.79,62.80 C1091.34,61.65 1094.10,61.63 1097.64,62.10 C1101.19,62.57 1103.95,64.41 1107.50,65.40 C1111.05,66.39 1113.81,67.33 1117.36,67.60 C1120.91,67.87 1123.67,66.70 1127.22,66.90 C1130.77,67.10 1133.53,68.21 1137.08,68.70 C1140.63,69.19 1143.39,70.36 1146.94,69.60 C1150.49,68.84 1153.25,65.42 1156.80,64.50 C1160.35,63.58 1163.11,63.98 1166.66,64.50 C1170.20,65.02 1172.96,66.32 1176.51,67.40 C1180.06,68.48 1182.82,69.76 1186.37,70.50 C1189.92,71.24 1192.68,71.66 1196.23,71.50 C1199.78,71.34 1202.54,70.03 1206.09,69.60 C1209.64,69.17 1212.40,70.29 1215.95,69.10 C1219.50,67.91 1222.26,63.83 1225.81,63.00 C1229.36,62.17 1232.12,63.64 1235.67,64.50 C1239.21,65.36 1241.98,67.01 1245.52,67.80 C1249.07,68.59 1251.83,68.67 1255.38,68.90 C1258.93,69.13 1261.69,68.74 1265.24,69.10 C1268.79,69.46 1273.33,70.58 1275.10,70.90" fill="none" stroke="#4380d4" stroke-width="1.8" stroke-linejoin="round" stroke-linecap="round"/>
<g font-family="Liberation Sans, sans-serif" font-size="8.5" fill="#484848" text-anchor="end" font-weight="bold">
<text x="979.6" y="214.10">0.00</text>
<text x="979.6" y="196.84">10.00</text>
<text x="979.6" y="179.58">20.00</text>
<text x="979.6" y="162.32">30.00</text>
<text x="979.6" y="145.06">40.00</text>
<text x="979.6" y="127.80">50.00</text>
<text x="979.6" y="110.54">60.00</text>
<text x="979.6" y="93.28">70.00</text>
<text x="979.6" y="76.02">80.00</text>
<text x="979.6" y="58.76">90.00</text>
<text x="979.6" y="41.50">100.00</text>
</g>
<g font-family="Liberation Sans, sans-serif" font-size="8.3" fill="#484848" text-anchor="end" font-weight="bold">
<text transform="translate(990.80,224.0) rotate(-45)" x="0" y="0">15 Feb, 23</text>
<text transform="translate(1010.52,224.0) rotate(-45)" x="0" y="0">17 Feb, 23</text>
<text transform="translate(1030.23,224.0) rotate(-45)" x="0" y="0">19 Feb, 23</text>
<text transform="translate(1049.95,224.0) rotate(-45)" x="0" y="0">21 Feb, 23</text>
<text transform="translate(1069.67,224.0) rotate(-45)" x="0" y="0">23 Feb, 23</text>
<text transform="translate(1089.39,224.0) rotate(-45)" x="0" y="0">25 Feb, 23</text>
<text transform="translate(1109.10,224.0) rotate(-45)" x="0" y="0">27 Feb, 23</text>
<text transform="translate(1128.82,224.0) rotate(-45)" x="0" y="0">01 Mar, 23</text>
<text transform="translate(1148.54,224.0) rotate(-45)" x="0" y="0">03 Mar, 23</text>
<text transform="translate(1168.26,224.0) rotate(-45)" x="0" y="0">05 Mar, 23</text>
<text transform="translate(1187.97,224.0) rotate(-45)" x="0" y="0">07 Mar, 23</text>
<text transform="translate(1207.69,224.0) rotate(-45)" x="0" y="0">09 Mar, 23</text>
<text transform="translate(1227.41,224.0) rotate(-45)" x="0" y="0">11 Mar, 23</text>
<text transform="translate(1247.12,224.0) rotate(-45)" x="0" y="0">13 Mar, 23</text>
<text transform="translate(1266.84,224.0) rotate(-45)" x="0" y="0">15 Mar, 23</text>
</g>
</svg>
<svg class="ov" width="1415" height="685"><rect x="485.4" y="389.3" width="106.1" height="268.3" rx="2" fill="none" stroke="#f00b0b" stroke-width="7.1"/><path d="M459.9 243.9 L483.4 270.9 L478.5 272.8 L528.3 379.8 Q527 384.6 521.4 382.9 L472.7 275.3 L465.0 279.0 Z" fill="#f00b0b" stroke="#f00b0b" stroke-width="0.8" stroke-linejoin="round"/></svg>
</body></html>
